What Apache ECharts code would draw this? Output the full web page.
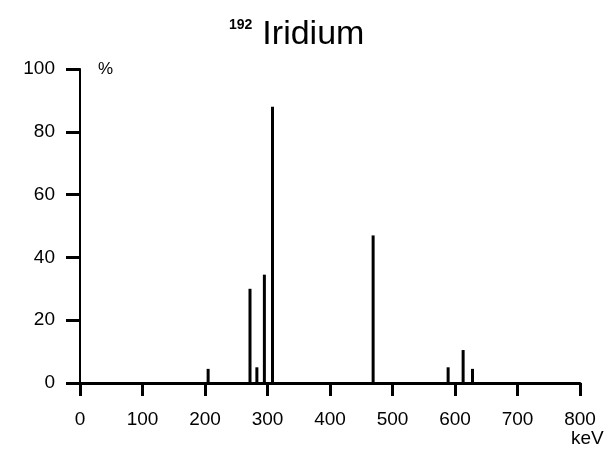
<!DOCTYPE html>
<html>
<head>
<meta charset="utf-8">
<script src="https://cdn.jsdelivr.net/npm/echarts@6/dist/echarts.min.js"></script>
<style>
  html, body { margin: 0; padding: 0; background: #fff; }
  #chart { width: 608px; height: 453px; }
</style>
</head>
<body>
<div id="chart"></div>
<script>
// gamma lines of Ir-192
const energies = [205, 272, 283, 295, 308, 469, 589, 613, 628];
const intensities = [4.5, 30, 5, 34.5, 88, 47, 5, 10.5, 4.5];
const yTicks = [0, 20, 40, 60, 80, 100];
const xTicks = [0, 100, 200, 300, 400, 500, 600, 700, 800];

const font = 'Liberation Sans, Arial, sans-serif';

const option = {
  animation: false,
  backgroundColor: '#fff',
  title: {
    text: '{s|192}  {m|Iridium}',
    left: 224,
    top: 13,
    textStyle: {
      rich: {
        s: { fontSize: 14, fontWeight: 'bold', fontFamily: font, color: '#000', verticalAlign: 'top' },
        m: { fontSize: 34, fontWeight: 'normal', fontFamily: font, color: '#000' }
      }
    }
  },
  graphic: [{
    type: 'text',
    left: 571,
    top: 429,
    style: { text: 'keV', fontSize: 19, fontFamily: font, fill: '#000' }
  }],
  grid: { left: 80, right: 28, top: 69, bottom: 70, outerBoundsMode: 'none' },
  xAxis: {
    type: 'value',
    min: xTicks[0],
    max: xTicks[xTicks.length - 1],
    interval: 100,
    splitLine: { show: false },
    axisLine: { lineStyle: { color: '#000', width: 3 } },
    axisTick: { inside: false, length: 13, lineStyle: { color: '#000', width: 3 } },
    axisLabel: { fontSize: 19, fontFamily: font, color: '#000', margin: 27 }
  },
  yAxis: {
    type: 'value',
    min: yTicks[0],
    max: yTicks[yTicks.length - 1],
    interval: 20,
    name: '%',
    nameLocation: 'end',
    nameGap: 0,
    nameTextStyle: { fontSize: 17, fontFamily: font, color: '#000', align: 'left', verticalAlign: 'middle', padding: [0, 0, 6, 18] },
    splitLine: { show: false },
    axisLine: { lineStyle: { color: '#000', width: 2 } },
    axisTick: { inside: false, length: 14, lineStyle: { color: '#000', width: 3 } },
    axisLabel: { fontSize: 19, fontFamily: font, color: '#000', margin: 25 }
  },
  series: [{
    type: 'bar',
    barWidth: 3,
    itemStyle: { color: '#000' },
    data: energies.map((e, i) => [e, intensities[i]])
  }]
};

const chart = echarts.init(document.getElementById('chart'), null, { renderer: 'canvas', devicePixelRatio: 1 });
chart.setOption(option);
</script>
</body>
</html>
